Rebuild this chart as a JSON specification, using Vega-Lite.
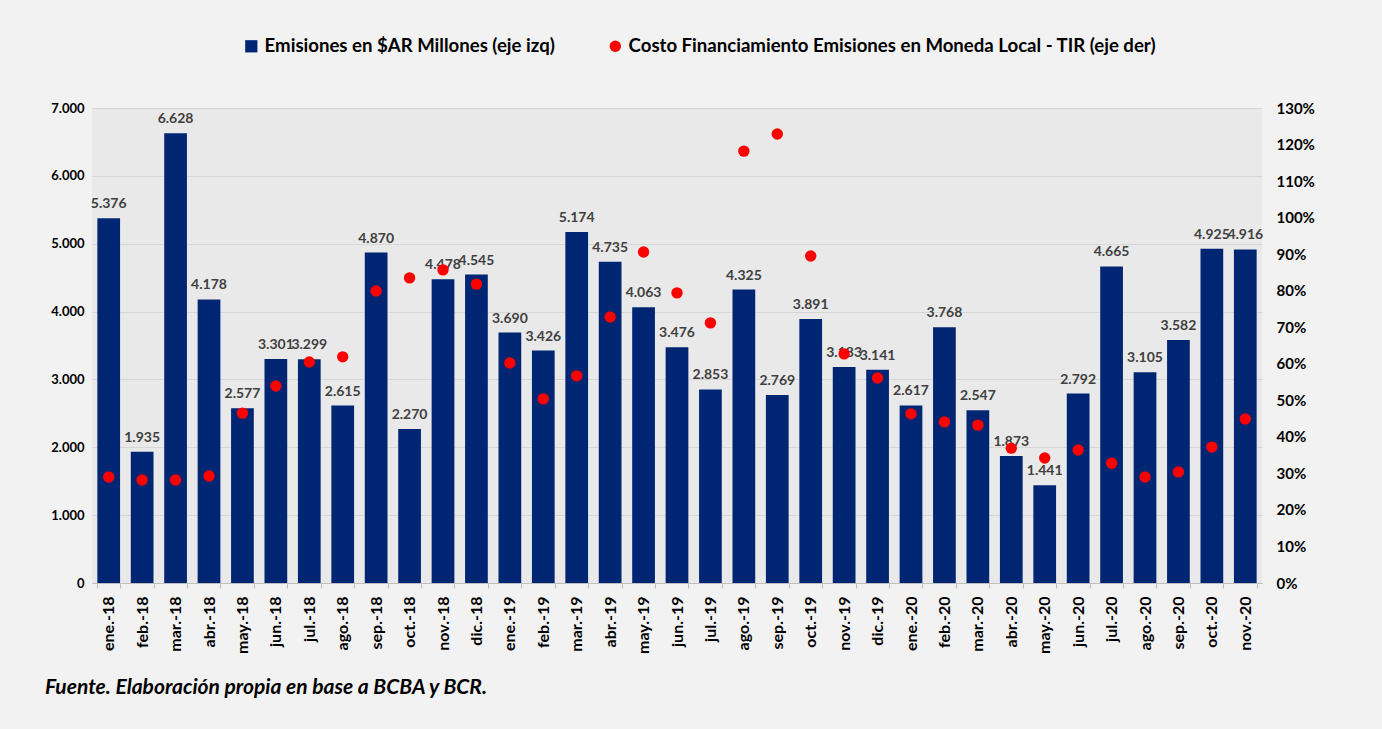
{
  "$schema": "https://vega.github.io/schema/vega-lite/v6.json",
  "width": 1170,
  "height": 475,
  "autosize": {"type": "none"},
  "padding": {"left": 92, "top": 108, "right": 120, "bottom": 146},
  "background": "#f2f2f2",
  "config": {
    "locale": {"number": {"decimal": ",", "thousands": ".", "grouping": [3], "currency": ["$", ""]}},
    "view": {"fill": "#e9e9e9", "stroke": null},
    "font": "Lato"
  },
  "title": {
    "text": "Fuente. Elaboración propia en base a BCBA y BCR.",
    "orient": "bottom",
    "anchor": "start",
    "frame": "group",
    "dx": -47,
    "offset": 24,
    "font": "Lato",
    "fontStyle": "italic",
    "fontWeight": "bold",
    "fontSize": 21,
    "color": "#000000"
  },
  "data": {
    "values": [
      {"mes": "ene.-18", "em": 5376, "tir": 0.290},
      {"mes": "feb.-18", "em": 1935, "tir": 0.282},
      {"mes": "mar.-18", "em": 6628, "tir": 0.282},
      {"mes": "abr.-18", "em": 4178, "tir": 0.293},
      {"mes": "may.-18", "em": 2577, "tir": 0.465},
      {"mes": "jun.-18", "em": 3301, "tir": 0.539},
      {"mes": "jul.-18", "em": 3299, "tir": 0.605},
      {"mes": "ago.-18", "em": 2615, "tir": 0.619},
      {"mes": "sep.-18", "em": 4870, "tir": 0.799},
      {"mes": "oct.-18", "em": 2270, "tir": 0.835},
      {"mes": "nov.-18", "em": 4478, "tir": 0.857},
      {"mes": "dic.-18", "em": 4545, "tir": 0.818},
      {"mes": "ene.-19", "em": 3690, "tir": 0.602},
      {"mes": "feb.-19", "em": 3426, "tir": 0.504},
      {"mes": "mar.-19", "em": 5174, "tir": 0.567},
      {"mes": "abr.-19", "em": 4735, "tir": 0.728},
      {"mes": "may.-19", "em": 4063, "tir": 0.906},
      {"mes": "jun.-19", "em": 3476, "tir": 0.794},
      {"mes": "jul.-19", "em": 2853, "tir": 0.712},
      {"mes": "ago.-19", "em": 4325, "tir": 1.182},
      {"mes": "sep.-19", "em": 2769, "tir": 1.229},
      {"mes": "oct.-19", "em": 3891, "tir": 0.895},
      {"mes": "nov.-19", "em": 3183, "tir": 0.627},
      {"mes": "dic.-19", "em": 3141, "tir": 0.561},
      {"mes": "ene.-20", "em": 2617, "tir": 0.463},
      {"mes": "feb.-20", "em": 3768, "tir": 0.441},
      {"mes": "mar.-20", "em": 2547, "tir": 0.432},
      {"mes": "abr.-20", "em": 1873, "tir": 0.369},
      {"mes": "may.-20", "em": 1441, "tir": 0.342},
      {"mes": "jun.-20", "em": 2792, "tir": 0.364},
      {"mes": "jul.-20", "em": 4665, "tir": 0.328},
      {"mes": "ago.-20", "em": 3105, "tir": 0.290},
      {"mes": "sep.-20", "em": 3582, "tir": 0.304},
      {"mes": "oct.-20", "em": 4925, "tir": 0.372},
      {"mes": "nov.-20", "em": 4916, "tir": 0.449}
    ]
  },
  "encoding": {
    "x": {
      "field": "mes",
      "type": "ordinal",
      "sort": null,
      "scale": {"paddingInner": 0.32, "paddingOuter": 0.16},
      "axis": {
        "title": null,
        "labelAngle": -90,
        "labelAlign": "right",
        "labelBaseline": "middle",
        "labelFont": "Lato",
        "labelFontSize": 16,
        "labelFontWeight": "bold",
        "labelColor": "#000000",
        "labelPadding": 8,
        "tickBand": "extent",
        "tickSize": 5,
        "tickColor": "#bfbfbf",
        "domainColor": "#bfbfbf",
        "grid": false
      }
    }
  },
  "layer": [
    {
      "encoding": {
        "y": {
          "field": "em",
          "type": "quantitative",
          "scale": {"domain": [0, 7000]},
          "axis": {
            "title": null,
            "orient": "left",
            "values": [0, 1000, 2000, 3000, 4000, 5000, 6000, 7000],
            "format": ",.0f",
            "grid": true,
            "gridColor": "#d6d6d6",
            "gridWidth": 1,
            "domain": false,
            "ticks": false,
            "labelPadding": 8,
            "labelFont": "Lato",
            "labelFontSize": 13,
            "labelFontWeight": "bold",
            "labelColor": "#000000"
          }
        }
      },
      "layer": [
        {
          "mark": {"type": "bar"},
          "encoding": {
            "color": {
              "datum": "Emisiones en $AR Millones (eje izq)",
              "scale": {"range": ["#002673"]},
              "legend": {
                "orient": "none",
                "legendX": 150,
                "legendY": -71,
                "title": null,
                "symbolType": "square",
                "symbolSize": 150,
                "labelFont": "Lato",
                "labelFontSize": 18.6,
                "labelFontWeight": "bold",
                "labelColor": "#000000",
                "labelLimit": 900
              }
            }
          }
        },
        {
          "mark": {"type": "text", "baseline": "bottom", "dy": -7, "font": "Lato", "fontSize": 14, "fontWeight": "bold", "color": "#404040"},
          "encoding": {
            "text": {"field": "em", "type": "quantitative", "format": ",.0f"}
          }
        }
      ]
    },
    {
      "mark": {"type": "point", "filled": true, "size": 130, "opacity": 1, "strokeWidth": 0},
      "encoding": {
        "y": {
          "field": "tir",
          "type": "quantitative",
          "scale": {"domain": [0, 1.3]},
          "axis": {
            "title": null,
            "orient": "right",
            "values": [0, 0.1, 0.2, 0.3, 0.4, 0.5, 0.6, 0.7, 0.8, 0.9, 1.0, 1.1, 1.2, 1.3],
            "format": ".0%",
            "grid": false,
            "domain": false,
            "ticks": false,
            "labelPadding": 14,
            "labelFont": "Lato",
            "labelFontSize": 15,
            "labelFontWeight": "bold",
            "labelColor": "#000000"
          }
        },
        "fill": {
          "datum": "Costo Financiamiento Emisiones en Moneda Local - TIR (eje der)",
          "scale": {"range": ["#ff0000"]},
          "legend": {
            "orient": "none",
            "legendX": 514,
            "legendY": -71,
            "title": null,
            "symbolType": "circle",
            "symbolSize": 130,
            "symbolStrokeWidth": 0,
            "labelFont": "Lato",
            "labelFontSize": 18.6,
            "labelFontWeight": "bold",
            "labelColor": "#000000",
            "labelLimit": 900
          }
        }
      }
    }
  ],
  "resolve": {"scale": {"y": "independent"}}
}
